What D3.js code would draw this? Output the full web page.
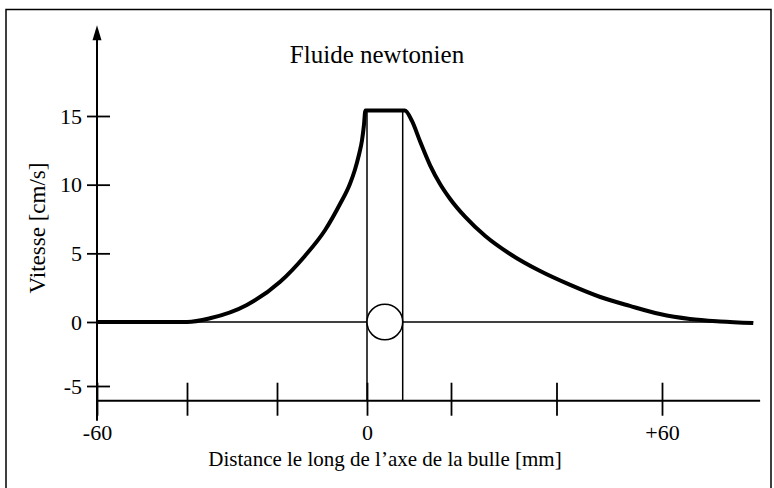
<!DOCTYPE html>
<html>
<head>
<meta charset="utf-8">
<script src="https://cdn.jsdelivr.net/npm/d3@7"></script>
<style>
  body { margin: 0; background: #fff; }
  text { font-family: "Liberation Serif", "Times New Roman", serif; fill: #000; }
</style>
</head>
<body>
<script>
// values
const distance = [-60, -40, -34.9, -26.7, -19.3, -13.8, -9.3, -6.0, -3.8, -2.7, -1.8, -1.1, -0.7, -0.35,
                  9.0, 10.7, 12.6, 15.0, 17.4, 19.8, 22.7, 26.5, 31.2, 36.9, 42.6, 48.3, 53.9, 59.6, 65.3, 71.0, 77.3]
const vitesse = [0, 0, 0.27, 1.24, 2.93, 4.81, 6.70, 8.59, 10.05, 11.07, 12.16, 13.25, 14.27, 15.4,
                 15.4, 14.64, 13.18, 11.43, 10.05, 8.96, 7.65, 6.26, 4.95, 3.71, 2.70, 1.82, 1.17, 0.58, 0.22, 0.04, -0.08]

// bubble walls (mm) and flat top speed
const bulle = [0, 8.5]
const vMax = 15.4

const yTicks = [-5, 0, 5, 10, 15]
const xTicks = [-60, -40, -20, 0, 20, 40, 60]
const xTickLabels = { "-60": "-60", "0": "0", "60": "+60" }

const title = "Fluide newtonien"
const xTitle = "Distance le long de l\u2019axe de la bulle [mm]"
const yTitle = "Vitesse [cm/s]"

const width = 774, height = 488

// the drawing is hand made, so the scales are piecewise
const x = d3.scaleLinear()
    .domain([-60, 0, 20, 60])
    .range([97, 367, 451, 662])

const y = d3.scaleLinear()
    .domain([-5, 0, 15])
    .range([386, 322, 116])

const xMin = -60, xMax = 78.6
const yMin = -6.15, yMax = 21.6

let svg = d3.select("body")
    .append("svg")
        .attr("width", width)
        .attr("height", height)

// outer frame
svg.append("rect")
    .attr("x", 6)
    .attr("y", 9.5)
    .attr("width", 765)
    .attr("height", 520)
    .attr("fill", "none")
    .attr("stroke", "#000")
    .attr("stroke-width", 1.5)

// title
svg.append("text")
    .attr("x", 377)
    .attr("y", 63)
    .attr("text-anchor", "middle")
    .style("font-size", "25px")
    .text(title)

// zero line
svg.append("line")
    .attr("x1", x(xMin)).attr("x2", x(77.3))
    .attr("y1", y(0)).attr("y2", y(0))
    .attr("stroke", "#000")
    .attr("stroke-width", 1.5)

// bubble walls
svg.selectAll(".wall")
    .data(bulle)
    .enter()
    .append("line")
        .attr("class", "wall")
        .attr("x1", d => x(d)).attr("x2", d => x(d))
        .attr("y1", y(vMax)).attr("y2", y(yMin))
        .attr("stroke", "#000")
        .attr("stroke-width", 1.5)

// bubble
svg.append("circle")
    .attr("cx", (x(bulle[0]) + x(bulle[1])) / 2)
    .attr("cy", y(0))
    .attr("r", (x(bulle[1]) - x(bulle[0])) / 2)
    .attr("fill", "#fff")
    .attr("stroke", "#000")
    .attr("stroke-width", 1.5)

// speed curve
const line = d3.line()
    .x((d, i) => x(distance[i]))
    .y(d => y(d))
    .curve(d3.curveMonotoneX)

svg.append("path")
    .attr("d", line(vitesse))
    .attr("fill", "none")
    .attr("stroke", "#000")
    .attr("stroke-width", 4)
    .attr("stroke-linejoin", "round")

// x axis
const xAxis = d3.axisBottom(x)
    .tickValues(xTicks)
    .tickSizeInner(15)
    .tickSizeOuter(0)
    .tickPadding(9)
    .tickFormat(d => xTickLabels[d] || "")

const gx = svg.append("g")
    .attr("transform", "translate(0," + y(yMin) + ")")
    .call(xAxis)
gx.select(".domain").remove()
gx.selectAll("line").attr("y1", -18).attr("stroke-width", 1.8)
gx.selectAll("text").style("font-size", "22px").attr("fill", "#000")

svg.append("line")
    .attr("x1", x(xMin)).attr("x2", x(xMax))
    .attr("y1", y(yMin)).attr("y2", y(yMin))
    .attr("stroke", "#000")
    .attr("stroke-width", 2)

// y axis
const yAxis = d3.axisLeft(y)
    .tickValues(yTicks)
    .tickSizeInner(10)
    .tickSizeOuter(0)
    .tickPadding(5)
    .tickFormat(d => String(d))

const gy = svg.append("g")
    .attr("transform", "translate(" + x(xMin) + ",0)")
    .call(yAxis)
gy.select(".domain").remove()
gy.selectAll("line").attr("x1", 13).attr("stroke-width", 1.8)
gy.selectAll("text").style("font-size", "22px").attr("fill", "#000")

svg.append("line")
    .attr("x1", x(xMin)).attr("x2", x(xMin))
    .attr("y1", y(yMin) + 20).attr("y2", y(yMax) + 10)
    .attr("stroke", "#000")
    .attr("stroke-width", 2)

// arrow head
svg.append("path")
    .attr("d", d3.line()([[x(xMin), y(yMax)], [x(xMin) - 4.5, y(yMax) + 15], [x(xMin) + 4.5, y(yMax) + 15]]) + "Z")
    .attr("fill", "#000")

// axis titles
svg.append("text")
    .attr("x", 385)
    .attr("y", 466)
    .attr("text-anchor", "middle")
    .style("font-size", "21px")
    .text(xTitle)

svg.append("text")
    .attr("transform", "translate(45,228) rotate(-90)")
    .attr("text-anchor", "middle")
    .style("font-size", "23px")
    .text(yTitle)
</script>
</body>
</html>
